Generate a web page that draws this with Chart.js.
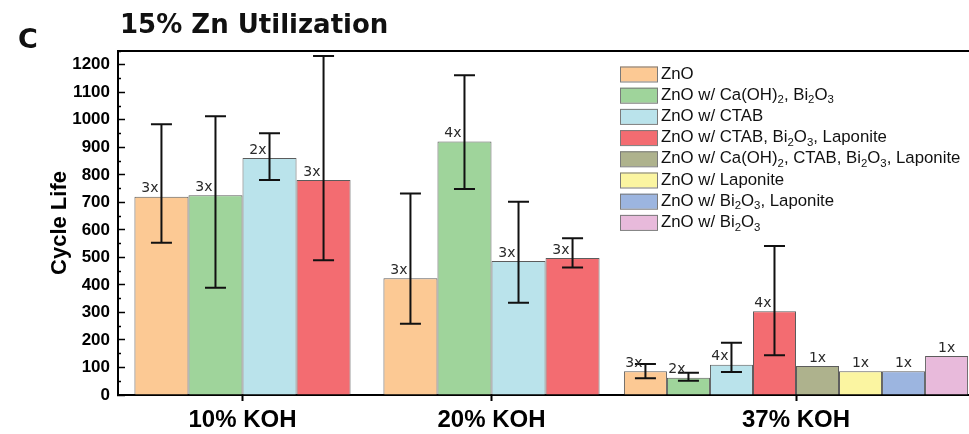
<!DOCTYPE html>
<html>
<head>
<meta charset="utf-8">
<script src="https://cdn.jsdelivr.net/npm/chart.js@4.4.0/dist/chart.umd.min.js"></script>
<style>
  html, body { margin: 0; padding: 0; background: #fff; overflow: hidden; }
  #wrap { width: 969px; height: 434px; overflow: hidden; }
</style>
</head>
<body>
<div id="wrap"><canvas id="lifeChart" width="976" height="434"></canvas></div>
<script>
const groups = ['10% KOH', '20% KOH', '37% KOH'];
const seriesLabels = [
    'ZnO',
    'ZnO w/ Ca(OH)₂, Bi₂O₃',
    'ZnO w/ CTAB',
    'ZnO w/ CTAB, Bi₂O₃, Laponite',
    'ZnO w/ Ca(OH)₂, CTAB, Bi₂O₃, Laponite',
    'ZnO w/ Laponite',
    'ZnO w/ Bi₂O₃, Laponite',
    'ZnO w/ Bi₂O₃'
];
const seriesColors = ['#fcc994', '#9fd49b', '#bae3eb', '#f36c71', '#aeb28d', '#fbf5a1', '#9cb5e0', '#e8badb'];

// mean cycle life, error bar bounds and number of cells, per electrolyte
const koh10Mean = [720, 726, 861, 781];
const koh10Low = [553, 390, 781, 490];
const koh10High = [984, 1013, 951, 1232];
const koh10Runs = [3, 3, 2, 3];

const koh20Mean = [424, 921, 487, 498];
const koh20Low = [259, 749, 335, 463];
const koh20High = [732, 1162, 702, 570];
const koh20Runs = [3, 4, 3, 3];

const koh37Mean = [86, 63, 110, 304, 105, 86, 86, 142];
const koh37Low = [61, 52, 84, 144, null, null, null, null];
const koh37High = [113, 81, 190, 541, null, null, null, null];
const koh37Runs = [3, 2, 4, 4, 1, 1, 1, 1];

const barStyle = {
    indexAxis: 'x',
    borderColor: '#5c5c5c',
    borderWidth: 1,
    barPercentage: 1
};

const datasets = [];
koh10Mean.forEach((v, i) => {
    datasets.push({
        ...barStyle,
        label: seriesLabels[i],
        xAxisID: 'x',
        data: [v, koh20Mean[i]],
        errLow: [koh10Low[i], koh20Low[i]],
        errHigh: [koh10High[i], koh20High[i]],
        runs: [koh10Runs[i], koh20Runs[i]],
        backgroundColor: seriesColors[i],
        categoryPercentage: 0.868
    });
});
koh37Mean.forEach((v, i) => {
    datasets.push({
        ...barStyle,
        label: seriesLabels[i],
        xAxisID: 'x2',
        data: [v],
        errLow: [koh37Low[i]],
        errHigh: [koh37High[i]],
        runs: [koh37Runs[i]],
        backgroundColor: seriesColors[i],
        categoryPercentage: 0.956
    });
});

// draws text, turning subscript digits into small lowered digits
const subDigits = { '₂': '2', '₃': '3' };
function drawRich(ctx, text, x, y, size) {
    text.split(/([₂₃])/).forEach(part => {
        if (!part) return;
        if (subDigits[part]) {
            ctx.font = (size * 0.68).toFixed(1) + 'px "Liberation Sans"';
            ctx.fillText(subDigits[part], x, y + size * 0.3);
            x += ctx.measureText(subDigits[part]).width;
        } else {
            ctx.font = size + 'px "Liberation Sans"';
            ctx.fillText(part, x, y);
            x += ctx.measureText(part).width;
        }
    });
}

const decorations = {
    id: 'decorations',
    afterDatasetsDraw(chart) {
        const { ctx, scales: { y } } = chart;
        chart.data.datasets.forEach((ds, di) => {
            chart.getDatasetMeta(di).data.forEach((bar, j) => {
                const hi = ds.errHigh[j];
                const lo = ds.errLow[j];
                ctx.save();
                if (hi != null) {
                    const yHi = y.getPixelForValue(hi);
                    const yLo = y.getPixelForValue(lo);
                    ctx.strokeStyle = '#111';
                    ctx.lineWidth = 2;
                    ctx.beginPath();
                    ctx.moveTo(bar.x, yHi);
                    ctx.lineTo(bar.x, yLo);
                    ctx.moveTo(bar.x - 10.5, yHi);
                    ctx.lineTo(bar.x + 10.5, yHi);
                    ctx.moveTo(bar.x - 10.5, yLo);
                    ctx.lineTo(bar.x + 10.5, yLo);
                    ctx.stroke();
                }
                ctx.font = '14px "DejaVu Sans"';
                ctx.fillStyle = '#2a2a2a';
                ctx.textBaseline = 'bottom';
                ctx.textAlign = hi != null ? 'right' : 'center';
                ctx.fillText(ds.runs[j] + 'x', hi != null ? bar.x - 3 : bar.x, bar.y - 1);
                ctx.restore();
            });
        });
    },
    afterDraw(chart) {
        const { ctx, chartArea } = chart;
        ctx.save();
        // top frame line
        ctx.strokeStyle = '#000';
        ctx.lineWidth = 2;
        ctx.beginPath();
        ctx.moveTo(chartArea.left, chartArea.top);
        ctx.lineTo(chartArea.right, chartArea.top);
        ctx.stroke();

        ctx.fillStyle = '#111';
        ctx.textBaseline = 'alphabetic';
        ctx.font = 'bold 27px "DejaVu Sans"';
        ctx.fillText('C', 18, 48);
        ctx.font = 'bold 26px "DejaVu Sans"';
        ctx.fillText('15% Zn Utilization', 120, 33);

        // legend
        ctx.textBaseline = 'middle';
        seriesLabels.forEach((label, i) => {
            const cy = 74 + i * 21.2;
            ctx.fillStyle = seriesColors[i];
            ctx.fillRect(620, cy - 7.5, 38, 15);
            ctx.strokeStyle = '#7a7a7a';
            ctx.lineWidth = 1;
            ctx.strokeRect(620.5, cy - 7, 37, 15);
            ctx.fillStyle = '#111';
            drawRich(ctx, label, 661, cy, 16.8);
        });
        ctx.restore();
    }
};

Chart.defaults.font.family = '"Liberation Sans", Arial, sans-serif';

const xAxisBase = {
    type: 'category',
    position: 'bottom',
    stack: 'koh',
    offset: true,
    grid: { offset: false, drawOnChartArea: false, tickLength: 6, tickWidth: 2, tickColor: '#000' },
    border: { color: '#000', width: 2 },
    ticks: { color: '#000', font: { size: 24, weight: 'bold' }, padding: 5 },
    afterFit: s => { s.height = 39; }
};

new Chart(document.getElementById('lifeChart'), {
    type: 'bar',
    data: { datasets: datasets },
    options: {
        // chart level 'y' keeps the two stacked x axes from being grouped together;
        // every dataset still draws vertical bars on its own x axis
        indexAxis: 'y',
        responsive: false,
        animation: false,
        layout: { padding: { top: 51, left: 0, right: 0, bottom: 0 } },
        plugins: {
            legend: { display: false },
            tooltip: { enabled: false }
        },
        scales: {
            x: { ...xAxisBase, labels: groups.slice(0, 2), stackWeight: 498 },
            x2: { ...xAxisBase, labels: groups.slice(2), stackWeight: 360 },
            y: {
                type: 'linear',
                position: 'left',
                offset: false,
                stacked: false,
                min: 0,
                max: 1250,
                afterFit: s => { s.width = 118; },
                border: { color: '#000', width: 2 },
                grid: {
                    offset: false,
                    drawOnChartArea: false,
                    tickLength: -7,
                    tickColor: '#000',
                    tickWidth: 1.5,
                    tickBorderDash: ctx => (ctx.tick && ctx.tick.value % 100) ? [0, 4, 4, 40] : []
                },
                ticks: {
                    stepSize: 50,
                    autoSkip: false,
                    padding: 15,
                    color: '#000',
                    font: { size: 17, weight: 'bold' },
                    callback: v => v % 100 === 0 ? v : ''
                },
                title: {
                    display: true,
                    text: 'Cycle Life',
                    color: '#000',
                    font: { size: 22, weight: 'bold' },
                    padding: { top: 47, bottom: 0 }
                }
            }
        }
    },
    plugins: [decorations]
});
</script>
</body>
</html>
